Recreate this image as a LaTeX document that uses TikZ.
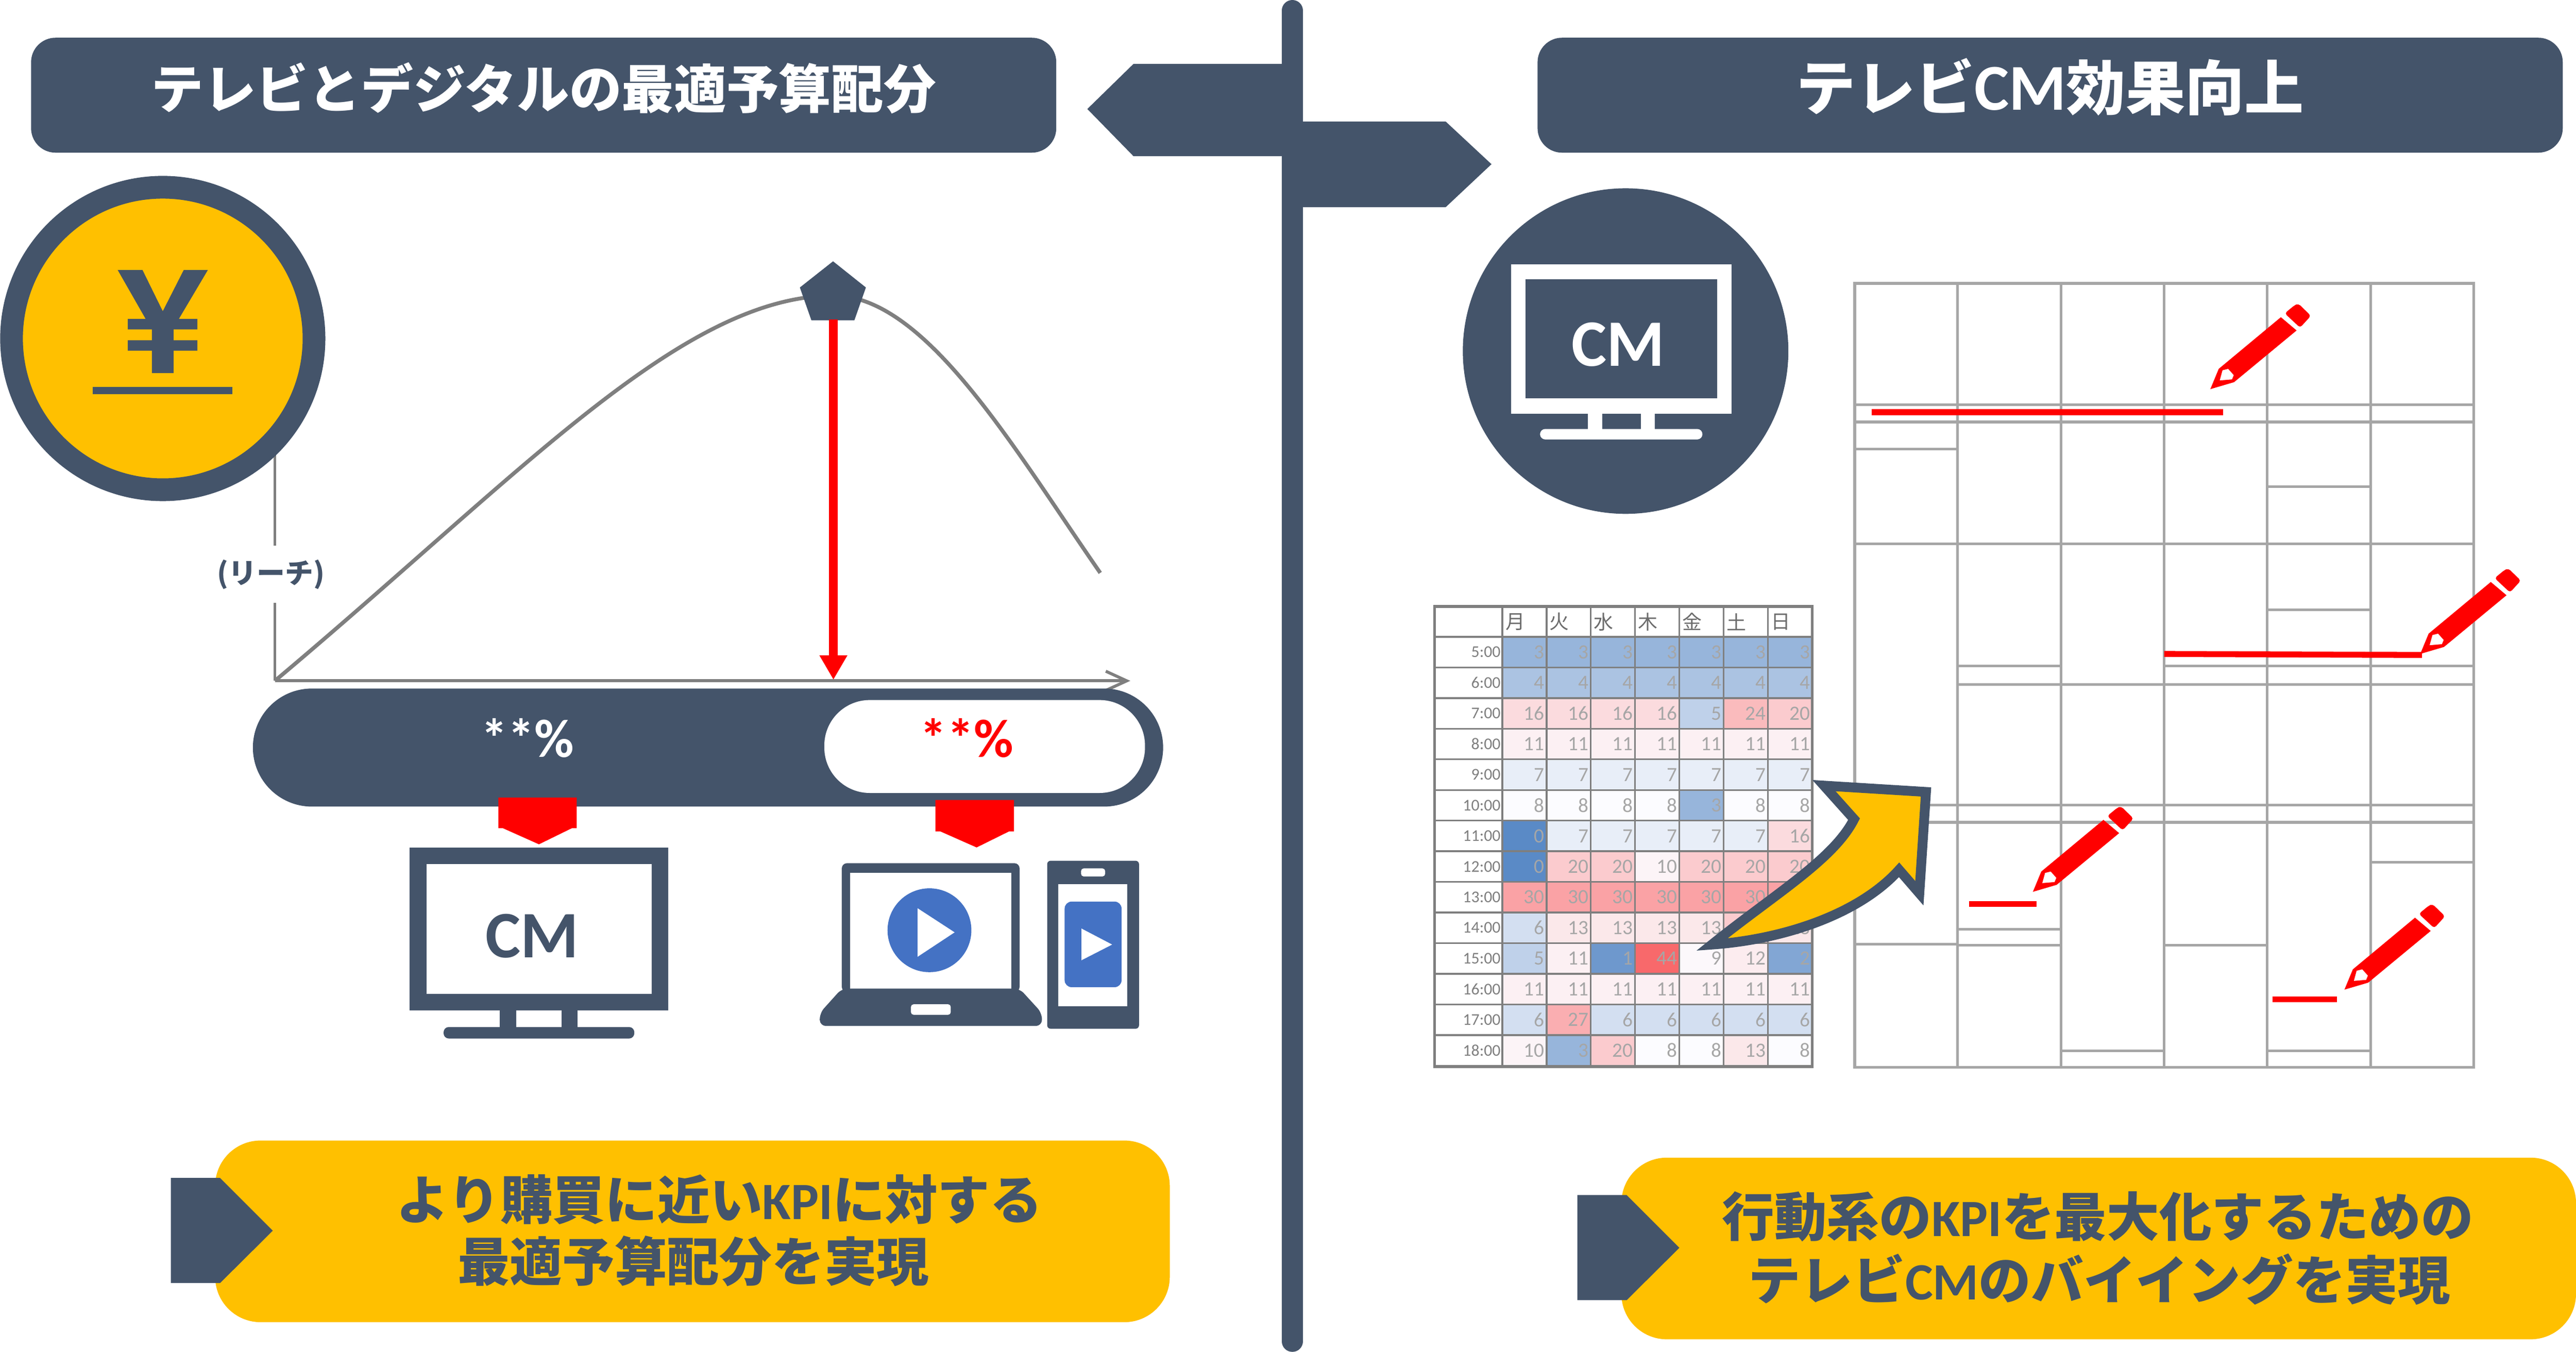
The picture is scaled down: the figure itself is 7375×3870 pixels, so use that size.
\documentclass[tikz,border=0pt]{standalone}
\usepackage{fontspec}
\setmainfont{Carlito}
\newfontfamily\jpf{Noto Sans CJK JP}
\usetikzlibrary{arrows.meta}
\definecolor{navy}{HTML}{44546A}
\definecolor{gold}{HTML}{FFC000}
\definecolor{axisgray}{HTML}{7F7F7F}
\definecolor{gridgray}{HTML}{A6A6A6}
\definecolor{playblue}{HTML}{4472C4}
\definecolor{hmlo}{HTML}{5A8AC6}
\definecolor{hmmid}{HTML}{FCFCFF}
\definecolor{hmhi}{HTML}{F8696B}
\newcommand{\fsz}[1]{\fontsize{#1}{#1}\selectfont}
\newcommand{\lat}[1]{{\rmfamily\bfseries #1}}
\tikzset{
  x=0.2pt,y=-0.2pt,
  banner/.style={fill=navy,rounded corners=14pt,minimum width=587pt,minimum height=65.8pt,inner sep=0pt,text=white,font=\jpf\bfseries\fsz{30}},
  goldbox/.style={fill=gold,rounded corners=26pt,minimum width=546.6pt,minimum height=104pt,inner sep=0pt},
  goldtext/.style={text=navy,inner sep=0pt,font=\jpf\bfseries\fsz{30}},
  pct/.style={inner sep=0pt,font=\bfseries\fsz{31}},
  cmtext/.style={inner sep=0pt,font=\bfseries\fsz{38}},
  hmnum/.style={inner sep=0pt,text=gridgray,font=\fsz{11.6}},
  hmtime/.style={inner sep=0pt,text=axisgray,font=\fsz{9.4}},
  hmday/.style={inner sep=0pt,text=axisgray!85!black,font=\jpf\fsz{11.2}},
  redrule/.style={red,line width=3.4pt},
  pics/pencilicon/.style={code={
    \fill[red] (0,0)--(24,-58)--(202,-206)--(247,-168)--(68,-20)--cycle;
    \fill[red,rounded corners=1.5pt] (213,-217)--(241,-240)--(252,-245)--(288,-210)--(257,-176)--cycle;
    \fill[white] (27,-25)--(35,-54)--(51,-58)--(67,-40)--(62,-28)--cycle;
  }}
}
\begin{document}
\begin{tikzpicture}
\useasboundingbox (0,0) rectangle (7375,3870);
\fill[white] (0,0) rectangle (7375,3870);
% centre post and signs
\draw[navy,line width=12pt,line cap=round] (3700,30)--(3700,3840);
\fill[navy] (3675,183)--(3245,183)--(3113,312)--(3245,447)--(3675,447)--cycle;
\fill[navy] (3725,348)--(4139,348)--(4270,470)--(4139,593)--(3725,593)--cycle;
% titles
\node[banner] (titleL) at (1556.5,272.5) {\raisebox{-7.6pt}[0pt][0pt]{テレビとデジタルの最適予算配分}};
\node[banner] (titleR) at (5869.5,272.5) {\raisebox{-8.5pt}[0pt][0pt]{\fsz{34}テレビ{\fsz{37.5}\lat{CM}}効果向上}};
% axes and curve
\coordinate (origin) at (787,1949);
\coordinate (xend) at (3236,1949);
\coordinate (ytop) at (787,1200);
\coordinate (peak) at (2385,846);
\coordinate (curveend) at (3150,1640);
\coordinate (foot) at (2386,1946);
\coordinate (stem) at (2386,915);
\draw[axisgray,line width=1.7pt] (ytop)--(origin);
\draw[axisgray,line width=1.7pt,-{Straight Barb[length=12pt,width=11pt]}] (origin)--(xend);
\draw[axisgray,line width=2.2pt] (origin) .. controls (1500,1350) and (1950,850) .. (peak)
   .. controls (2650,846) and (2900,1280) .. (curveend);
\node[fill=white,inner sep=0pt,minimum height=32.6pt,text=navy,font=\jpf\bfseries\fsz{16.2}] (reach) at (776,1644) {(リーチ)};
\fill[navy] (2385,748)--(2479,823)--(2446,917)--(2323,917)--(2290,823)--cycle;
\draw[red,line width=5.2pt,-{Triangle[length=14pt,width=15pt]}] (stem)--(foot);
% yen badge
\fill[gold,draw=navy,line width=13pt] (466,969) circle[radius=433];
\fill[navy] (337,773)--(408,773)--(466,891)--(526,773)--(595,773)--(512,913)--(565,913)--(565,943)--(497,943)--(497,974)--(565,974)--(565,1004)--(497,1004)--(497,1068)--(435,1068)--(435,1004)--(366,1004)--(366,974)--(435,974)--(435,943)--(366,943)--(366,913)--(417,913)--cycle;
\fill[navy] (265,1107) rectangle (665,1128);
% share bar
\fill[navy,rounded corners=33.8pt] (724,1971) rectangle (3330,2309);
\fill[white,rounded corners=26pt] (2360,2004) rectangle (3278,2270);
\node[pct,text=white] (pctL) at (1510,2113) {**\%};
\node[pct,text=red] (pctR) at (2768,2113) {**\%};
\fill[red] (1427,2283)--(1651,2283)--(1651,2371)--(1637,2371)--(1543,2417)--(1440,2371)--(1427,2371)--cycle;
\fill[red] (2678,2290)--(2903,2290)--(2903,2380)--(2889,2380)--(2796,2426)--(2692,2380)--(2678,2380)--cycle;
% left TV
\fill[navy] (1173,2426) rectangle (1913,2892);
\fill[white] (1222,2474) rectangle (1866,2845);
\fill[navy] (1431,2892) rectangle (1478,2945);
\fill[navy] (1607,2892) rectangle (1654,2945);
\fill[navy,rounded corners=3pt] (1270,2973)--(1270,2940)--(1816,2940)--(1816,2973)--cycle;
\node[cmtext,text=navy] (cmL) at (1524,2680) {CM};
% laptop
\fill[navy,rounded corners=3pt] (2410,2840)--(2410,2471)--(2919,2471)--(2919,2840)--cycle;
\fill[white] (2433,2498) rectangle (2895,2830);
\fill[navy,rounded corners=3.5pt] (2410,2830)--(2347,2900)--(2347,2937)--(2983,2937)--(2983,2900)--(2919,2830)--cycle;
\fill[white,rounded corners=1.5pt] (2608,2875) rectangle (2722,2905);
\fill[playblue] (2661,2663) circle[radius=120];
\fill[white] (2627,2600)--(2733,2669)--(2627,2739)--cycle;
% phone
\fill[navy,rounded corners=2pt] (2998,2464) rectangle (3261,2945);
\fill[white] (3030,2531) rectangle (3228,2880);
\fill[white,rounded corners=1.5pt] (3095,2486) rectangle (3164,2509);
\fill[playblue,rounded corners=4pt] (3048,2581) rectangle (3211,2826);
\fill[white] (3096,2658)--(3184,2704)--(3096,2749)--cycle;
% bottom left callout
\node[goldbox] (boxL) at (1982.5,3525) {};
\fill[navy] (489,3372)--(630,3372)--(781,3523)--(630,3673)--(489,3673)--cycle;
\node[goldtext] (boxL1) at (2060,3434) {より購買に近い\lat{KPI}に対する};
\node[goldtext] (boxL2) at (1985,3610) {最適予算配分を実現};
% bottom right callout
\node[goldbox] (boxR) at (6008.5,3574) {};
\fill[navy] (4516,3421)--(4657,3421)--(4808,3572)--(4657,3722)--(4516,3722)--cycle;
\node[goldtext] (boxR1) at (6006,3483) {行動系の\lat{KPI}を最大化するための};
\node[goldtext] (boxR2) at (6010,3662) {テレビ\lat{CM}のバイイングを実現};
% right TV badge
\fill[navy] (4654,1005) circle[radius=466];
\fill[white] (4326,756) rectangle (4957,1184);
\fill[navy] (4367,800) rectangle (4916,1140);
\fill[white] (4546,1184) rectangle (4587,1235);
\fill[white] (4698,1184) rectangle (4738,1235);
\fill[white,rounded corners=3pt] (4409,1258)--(4409,1228)--(4874,1228)--(4874,1258)--cycle;
\node[cmtext,text=white] (cmR) at (4633,986) {CM};
% programme grid
\foreach \cx/\ys in {5310/{1159,1208,1286,1557,2304,2354,2703},
                     5604/{1159,1208,1557,1906,1959,2304,2354,2660,2706},
                     5900/{1159,1208,1557,1959,2304,2354,3008},
                     6196/{1159,1208,1557,1906,1959,2304,2354,2706},
                     6491/{1159,1208,1393,1557,1745,1906,1959,2304,2354,3008},
                     6787/{1159,1208,1557,1906,1959,2304,2354,2469}}{
  \pgfmathsetmacro\cxb{\cx+295.3}
  \foreach \yy in \ys { \draw[gridgray,line width=1.5pt] (\cx,\yy)--(\cxb,\yy); }
}
\foreach \cx in {5604,5900,6196,6491,6787} { \draw[gridgray,line width=1.5pt] (\cx,811)--(\cx,3055); }
\draw[gridgray,line width=1.6pt] (5310,811) rectangle (7082,3055);
% red marks
\coordinate (a1) at (5358,1180); \coordinate (b1) at (6364,1180);
\coordinate (a2) at (6196,1872); \coordinate (b2) at (6934,1875);
\coordinate (a3) at (5637,2588); \coordinate (b3) at (5831,2588);
\coordinate (a4) at (6506,2861); \coordinate (b4) at (6691,2861);
\draw[redrule] (a1)--(b1); \draw[redrule] (a2)--(b2); \draw[redrule] (a3)--(b3); \draw[redrule] (a4)--(b4);
\pic at (6328,1114) {pencilicon};
\pic at (6929,1872) {pencilicon};
\pic at (5820,2553) {pencilicon};
\pic at (6712,2833) {pencilicon};
% heat table
\foreach \lab/\vals [count=\r] in {
  5:00/{3,3,3,3,3,3,3}, 6:00/{4,4,4,4,4,4,4}, 7:00/{16,16,16,16,5,24,20},
  8:00/{11,11,11,11,11,11,11}, 9:00/{7,7,7,7,7,7,7}, 10:00/{8,8,8,8,3,8,8},
  11:00/{0,7,7,7,7,7,16}, 12:00/{0,20,20,10,20,20,20}, 13:00/{30,30,30,30,30,30,30},
  14:00/{6,13,13,13,13,20,13}, 15:00/{5,11,1,44,9,12,2}, 16:00/{11,11,11,11,11,11,11},
  17:00/{6,27,6,6,6,6,6}, 18:00/{10,3,20,8,8,13,8}}{
  \pgfmathsetmacro\ya{1823+(\r-1)*87.7}
  \pgfmathsetmacro\ym{\ya+43.8}
  \node[hmtime,anchor=east] (t-\r) at (4297,\ym) {\lab};
  \foreach \v [count=\c] in \vals {
    \pgfmathsetmacro\xa{4301+(\c-1)*126.7}
    \pgfmathsetmacro\xe{\xa+126.7-5}
    \ifnum\v>8 \pgfmathsetmacro\pc{(\v-8)/36*100}\edef\cc{hmhi!\pc!hmmid}%
    \else \pgfmathsetmacro\pc{(8-\v)/8*100}\edef\cc{hmlo!\pc!hmmid}\fi
    \fill[fill=\cc] (\xa,\ya) rectangle ++(126.7,87.7);
    \node[hmnum,anchor=east] (v-\r-\c) at (\xe,\ym) {\v};
  }
}
\foreach \d/\cn [count=\c] in {月/0,火/1,水/2,木/3,金/4,土/5,日/6}{
  \pgfmathsetmacro\xa{4301+\cn*126.7+8}
  \node[hmday,anchor=west] (d-\c) at (\xa,1780) {\d};
}
\foreach \i in {1,...,14}{ \pgfmathsetmacro\yy{1823+(\i-1)*87.7} \draw[axisgray,line width=1pt] (4107,\yy)--(5188,\yy); }
\foreach \i in {0,...,6}{ \pgfmathsetmacro\xx{4301+\i*126.7} \draw[axisgray,line width=1pt] (\xx,1736)--(\xx,3051); }
\draw[axisgray,line width=1.6pt] (4107,1736) rectangle (5188,3053);
% big arrow
\draw[navy,fill=gold,line width=5.6pt,line join=miter,miter limit=6] (4901,2704)
  .. controls (5080,2560) and (5250,2460) .. (5308,2345)
  -- (5222,2249) -- (5514,2267) -- (5495,2557) -- (5437,2490)
  .. controls (5320,2620) and (5100,2690) .. cycle;
\end{tikzpicture}
\end{document}
